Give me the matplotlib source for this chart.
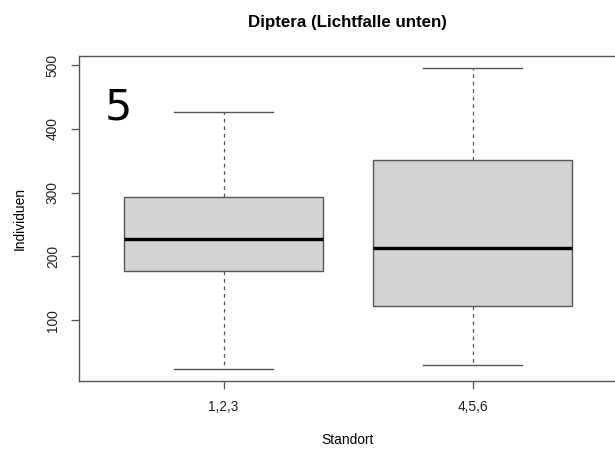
import matplotlib
matplotlib.use("Agg")
import matplotlib.pyplot as plt

# values
groups = ["1,2,3", "4,5,6"]
whisker_low = [24, 30]
q1 = [177, 123]
median = [228, 213]
q3 = [293, 352]
whisker_high = [426, 496]

W, H = 615, 450
fig = plt.figure(figsize=(W / 100, H / 100), dpi=100)
plt.rcParams['font.family'] = ['Liberation Sans', 'DejaVu Sans']

# axes box in pixels (right edge sits just past the image, as in the reference)
left, right, top, bottom = 79.3, 617, 55.7, 380.7
ax = fig.add_axes([left / W, 1 - bottom / H, (right - left) / W, (bottom - top) / H])

stats = []
for i, g in enumerate(groups):
    stats.append(dict(label=g, whislo=whisker_low[i], q1=q1[i], med=median[i],
                      q3=q3[i], whishi=whisker_high[i], fliers=[]))

edge = '#555555'
ax.bxp(stats, positions=[1, 2], widths=0.8, patch_artist=True, showfliers=False,
       boxprops=dict(facecolor='#d3d3d3', edgecolor=edge, linewidth=1.0),
       medianprops=dict(color='black', linewidth=2.4, solid_capstyle='butt'),
       whiskerprops=dict(color=edge, linewidth=0.9, linestyle=(0, (3, 3))),
       capprops=dict(color=edge, linewidth=1.0), capwidths=0.4)

lo, hi = min(whisker_low), max(whisker_high)
pad = 0.04 * (hi - lo)
ax.set_ylim(lo - pad, hi + pad)
ax.set_xlim(0.42, 2.58)

ax.set_yticks([100, 200, 300, 400, 500])
ax.set_xticks([1, 2])
ax.set_xticklabels(groups)
for lab in ax.get_yticklabels():
    lab.set_rotation(90)
    lab.set_va('center')
ax.tick_params(axis='both', length=6, width=0.9, color=edge, labelsize=9.9, colors='#222222')
ax.tick_params(axis='y', pad=8)
ax.tick_params(axis='x', pad=8)
for s in ax.spines.values():
    s.set_color(edge)
    s.set_linewidth(1.0)

fig.text(347.5 / W, 1 - 22 / H, "Diptera (Lichtfalle unten)", ha='center', va='center',
         fontsize=12.2, fontweight='bold')
fig.text(347.5 / W, 1 - 440 / H, "Standort", ha='center', va='center', fontsize=9.9)
fig.text(20 / W, 1 - 218 / H, "Individuen", ha='center', va='center', fontsize=9.9, rotation=90)
fig.text(105 / W, 1 - 119 / H, "5", ha='left', va='baseline', fontsize=31,
         family='DejaVu Sans')

fig.savefig("out.png", dpi=100)
